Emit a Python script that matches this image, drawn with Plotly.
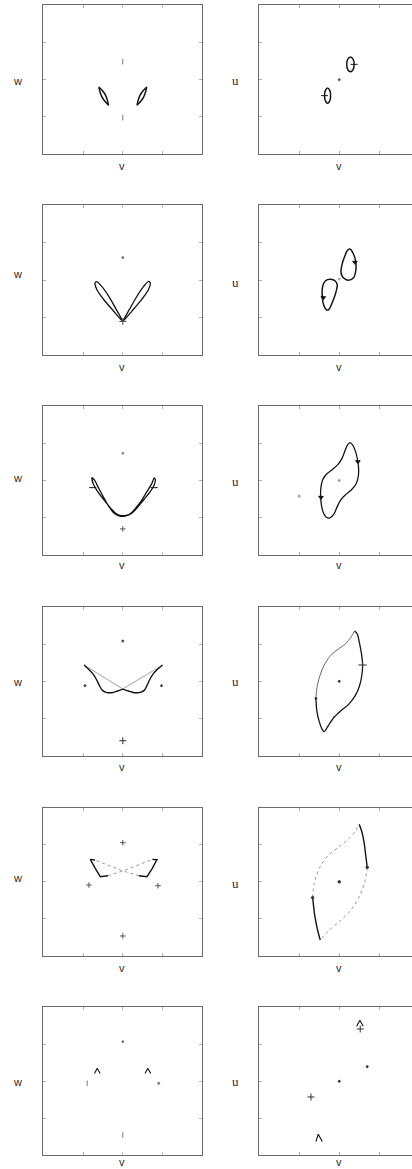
import plotly.graph_objects as go

W, H = 412, 1169

# ---------------- row 1 ----------------
r1_w_lobe_left = [(-0.30, -0.10), (-0.255, -0.15), (-0.218, -0.207), (-0.195, -0.271), (-0.18, -0.34),
                  (-0.225, -0.289), (-0.262, -0.233), (-0.285, -0.17), (-0.30, -0.10)]
r1_w_lobe_right = [(0.30, -0.10), (0.285, -0.17), (0.262, -0.233), (0.225, -0.289), (0.18, -0.34),
                   (0.195, -0.271), (0.218, -0.207), (0.255, -0.15), (0.30, -0.10)]
r1_w_fixed = [(0.0, 0.24), (0.0, -0.51)]

r1_u_orbit_upper = [(0.14, 0.305), (0.173, 0.276), (0.186, 0.205), (0.173, 0.134), (0.14, 0.105),
                    (0.107, 0.134), (0.094, 0.205), (0.107, 0.276), (0.14, 0.305)]
r1_u_orbit_lower = [(-0.146, -0.111), (-0.12, -0.141), (-0.108, -0.214), (-0.12, -0.287), (-0.146, -0.317),
                    (-0.172, -0.287), (-0.184, -0.214), (-0.172, -0.141), (-0.146, -0.111)]
r1_u_arrows = [(0.186, 0.205), (-0.184, -0.214)]
r1_u_fixed = [(0.0, 0.0)]

# ---------------- row 2 ----------------
r2_w_petal_left = [(0.0, -0.55), (-0.0865, -0.3815), (-0.176, -0.2155), (-0.262, -0.0855), (-0.33, -0.02),
                   (-0.35, -0.04), (-0.324, -0.1305), (-0.238, -0.2605), (-0.1205, -0.4065), (0.0, -0.55)]
r2_w_petal_right = [(0.0, -0.55), (0.087, -0.383), (0.178, -0.214), (0.262, -0.083), (0.326, -0.015),
                    (0.345, -0.035), (0.322, -0.128), (0.236, -0.259), (0.12, -0.405), (0.0, -0.55)]
r2_w_fixed = [(0.0, 0.30)]
r2_w_cross = [(0.0, -0.55)]

r2_u_orbit_upper = [(0.133, 0.415), (0.179, 0.344), (0.204, 0.255), (0.208, 0.135), (0.179, 0.033),
                    (0.1125, -0.002), (0.042, 0.042), (0.021, 0.113), (0.0375, 0.22), (0.075, 0.335),
                    (0.10, 0.392), (0.133, 0.415)]
r2_u_orbit_lower = [(-0.108, 0.011), (-0.05, -0.011), (-0.025, -0.064), (-0.042, -0.162), (-0.083, -0.286),
                    (-0.129, -0.388), (-0.158, -0.397), (-0.192, -0.339), (-0.2125, -0.22), (-0.208, -0.086),
                    (-0.175, -0.011), (-0.108, 0.011)]
r2_u_arrows = [(0.196, 0.237), (-0.2, -0.233)]
r2_u_fixed = [(0.0, 0.015)]

# ---------------- row 3 ----------------
r3_w_orbit = [(-0.387, 0.038), (-0.374, -0.038), (-0.328, -0.128), (-0.252, -0.239), (-0.168, -0.351),
              (-0.097, -0.432), (-0.034, -0.468), (0.042, -0.468), (0.109, -0.432), (0.176, -0.351),
              (0.24, -0.262), (0.303, -0.15), (0.366, -0.038), (0.395, 0.034), (0.408, 0.016),
              (0.395, -0.06), (0.345, -0.15), (0.26, -0.262), (0.176, -0.374), (0.101, -0.45),
              (0.029, -0.477), (-0.042, -0.477), (-0.109, -0.441), (-0.168, -0.36), (-0.235, -0.239),
              (-0.303, -0.105), (-0.357, 0.007), (-0.387, 0.038)]
r3_w_arrows = [(-0.378, -0.096), (0.395, -0.096)]
r3_w_fixed = [(0.0, 0.365)]
r3_w_cross = [(0.0, -0.65)]

r3_u_orbit = [(0.133, 0.508), (0.171, 0.472), (0.204, 0.387), (0.229, 0.275), (0.242, 0.163),
              (0.2375, 0.051), (0.208, -0.051), (0.15, -0.128), (0.075, -0.195), (0.017, -0.262),
              (-0.025, -0.351), (-0.067, -0.45), (-0.117, -0.503), (-0.1625, -0.494), (-0.196, -0.441),
              (-0.221, -0.342), (-0.233, -0.217), (-0.229, -0.092), (-0.208, 0.007), (-0.158, 0.087),
              (-0.083, 0.15), (-0.017, 0.2125), (0.033, 0.293), (0.075, 0.409), (0.104, 0.477),
              (0.133, 0.508)]
r3_u_arrows = [(0.233, 0.253), (-0.229, -0.226)]
r3_u_fixed = [(0.0, 0.0), (-0.5, -0.21)]

# ---------------- row 4 ----------------
r4_w_slow_left = [(-0.487, 0.219), (-0.433, 0.165), (-0.37, 0.094), (-0.328, 0.018), (-0.294, -0.058),
                  (-0.256, -0.121), (-0.21, -0.147), (-0.139, -0.152), (-0.067, -0.129), (0.0, -0.103)]
r4_w_fast_left = [(-0.487, 0.219), (-0.24, 0.058), (0.0, -0.103)]
r4_w_slow_right = [(0.0, -0.103), (0.071, -0.129), (0.143, -0.152), (0.218, -0.147), (0.269, -0.121),
                   (0.303, -0.058), (0.336, 0.018), (0.378, 0.094), (0.437, 0.161), (0.5, 0.219)]
r4_w_fast_right = [(0.5, 0.219), (0.25, 0.058), (0.0, -0.103)]
r4_w_fixed = [(0.0, 0.54), (-0.475, -0.058), (0.487, -0.058)]
r4_w_cross = [(0.0, -0.795)]

r4_u_slow = [(0.192, 0.674), (0.225, 0.634), (0.254, 0.509), (0.279, 0.362), (0.292, 0.219),
             (0.283, 0.085), (0.254, -0.058), (0.2, -0.192), (0.117, -0.308), (0.017, -0.397),
             (-0.0625, -0.478), (-0.133, -0.585), (-0.1875, -0.674), (-0.2125, -0.647), (-0.25, -0.54),
             (-0.279, -0.406), (-0.292, -0.228)]
r4_u_fast = [(-0.292, -0.228), (-0.279, -0.085), (-0.246, 0.0625), (-0.192, 0.21), (-0.117, 0.335),
             (-0.017, 0.429), (0.075, 0.5), (0.15, 0.598), (0.192, 0.674)]
r4_u_cross = [(0.292, 0.219)]
r4_u_fixed = [(0.0, 0.0), (-0.292, -0.228)]

# ---------------- row 5 ----------------
r5_w_slow_a = [(-0.35, 0.294), (-0.409, 0.303), (-0.346, 0.182), (-0.283, 0.07), (-0.187, 0.083)]
r5_w_slow_b = [(0.371, 0.303), (0.43, 0.299), (0.371, 0.182), (0.304, 0.07), (0.203, 0.083)]
r5_w_fast_a = [(-0.187, 0.083), (0.002, 0.146), (0.371, 0.303)]
r5_w_fast_b = [(0.203, 0.083), (0.002, 0.146), (-0.35, 0.294)]
r5_w_cross = [(0.0, 0.528), (0.0, -0.73), (-0.426, -0.043), (0.442, -0.052)]

r5_u_slow_a = [(0.25, 0.775), (0.283, 0.676), (0.3125, 0.519), (0.333, 0.339), (0.35, 0.196)]
r5_u_fast_a = [(0.35, 0.196), (0.325, 0.025), (0.258, -0.178), (0.146, -0.38), (0.0, -0.537),
               (-0.125, -0.649), (-0.2375, -0.784)]
r5_u_slow_b = [(-0.2375, -0.784), (-0.271, -0.649), (-0.304, -0.47), (-0.333, -0.213)]
r5_u_fast_b = [(-0.333, -0.213), (-0.3125, -0.02), (-0.25, 0.182), (-0.146, 0.348), (0.0, 0.474),
               (0.125, 0.587), (0.208, 0.69), (0.25, 0.775)]
r5_u_fixed = [(0.35, 0.196), (-0.333, -0.213), (0.0, 0.0)]

# ---------------- row 6 ----------------
r6_w_cusp_left = [(-0.356, 0.104), (-0.322, 0.176), (-0.285, 0.104)]
r6_w_cusp_right = [(0.28, 0.104), (0.314, 0.176), (0.351, 0.104)]
r6_w_fixed = [(0.0, 0.536), (0.452, -0.027)]
r6_w_ticks = [(0.0, -0.725), (-0.448, -0.027)]

r6_u_cusp_upper = [(0.217, 0.743), (0.258, 0.824), (0.3, 0.743)]
r6_u_cusp_lower = [(-0.292, -0.815), (-0.2625, -0.716), (-0.2125, -0.815)]
r6_u_cross = [(0.2625, 0.707), (-0.354, -0.212)]
r6_u_fixed = [(0.35, 0.198), (0.0, 0.0)]

# panel frames in page pixels: (top, bottom) per row
row_px = [(5, 154.3), (205, 355.3), (406, 555), (606.7, 756), (807.7, 956), (1007.3, 1155.3)]
left_px = (43.3, 202.3)
right_px = (259.3, 412.0)
right_xmax = 0.91  # right-hand frames run off the page edge

v_label_y = [166, 366.7, 565, 766.7, 968.3, 1162]
w_label_y = [81, 274, 478, 682, 878, 1082]
u_label_y = [80, 282.7, 481, 681.7, 883, 1081.7]

INK = "#141414"
FAINT = "#8c8c8c"
LABEL = "#2a2a2a"

fig = go.Figure()


def axis_ids(k):
    return ("x" if k == 1 else f"x{k}", "y" if k == 1 else f"y{k}")


def add_path(k, pts, color=INK, width=1.5, dash="solid", spline=True):
    xa, ya = axis_ids(k)
    fig.add_trace(go.Scatter(
        x=[p[0] for p in pts], y=[p[1] for p in pts], xaxis=xa, yaxis=ya,
        mode="lines", line=dict(color=color, width=width, dash=dash,
                                shape="spline" if spline else "linear", smoothing=0.8),
        hoverinfo="skip", showlegend=False))


def add_marks(k, pts, symbol="circle", size=2.5, color=INK):
    xa, ya = axis_ids(k)
    fig.add_trace(go.Scatter(
        x=[p[0] for p in pts], y=[p[1] for p in pts], xaxis=xa, yaxis=ya,
        mode="markers",
        marker=dict(symbol=symbol, size=size, color=color, line=dict(color=color, width=1)),
        hoverinfo="skip", showlegend=False))


# panel numbering: row r, column c -> k = 2*r + c + 1
# row 1
add_path(1, r1_w_lobe_left)
add_path(1, r1_w_lobe_right)
add_marks(1, r1_w_fixed, "line-ns", 4, "#777")
add_path(2, r1_u_orbit_upper)
add_path(2, r1_u_orbit_lower)
add_marks(2, r1_u_arrows, "line-ew", 5)
add_marks(2, r1_u_fixed, "circle", 2, "#555")
# row 2
add_path(3, r2_w_petal_left, width=1.3)
add_path(3, r2_w_petal_right, width=1.3)
add_marks(3, r2_w_fixed, "circle", 2, "#777")
add_marks(3, r2_w_cross, "cross-thin", 5, "#555")
add_path(4, r2_u_orbit_upper)
add_path(4, r2_u_orbit_lower)
add_marks(4, r2_u_arrows, "triangle-down", 4)
add_marks(4, r2_u_fixed, "circle", 2, "#aaa")
# row 3
add_path(5, r3_w_orbit, width=1.3)
add_marks(5, r3_w_arrows, "line-ew", 5)
add_marks(5, r3_w_fixed, "circle", 2, "#888")
add_marks(5, r3_w_cross, "cross-thin", 4, "#555")
add_path(6, r3_u_orbit, width=1.3)
add_marks(6, r3_u_arrows, "triangle-down", 4)
add_marks(6, r3_u_fixed, "circle", 2, "#999")
# row 4
add_path(7, r4_w_fast_left, FAINT, 0.8, spline=False)
add_path(7, r4_w_fast_right, FAINT, 0.8, spline=False)
add_path(7, r4_w_slow_left, width=1.4)
add_path(7, r4_w_slow_right, width=1.4)
add_marks(7, r4_w_fixed, "circle", 2, "#444")
add_marks(7, r4_w_cross, "cross-thin", 5, "#333")
add_path(8, r4_u_slow, width=1.3)
add_path(8, r4_u_fast, "#555", 0.9)
add_marks(8, r4_u_cross, "cross-thin", 6, "#333")
add_marks(8, r4_u_fixed, "circle", 2, "#333")
# row 5
add_path(9, r5_w_fast_a, FAINT, 0.9, "dot", spline=False)
add_path(9, r5_w_fast_b, FAINT, 0.9, "dot", spline=False)
add_path(9, r5_w_slow_a, width=1.4, spline=False)
add_path(9, r5_w_slow_b, width=1.4, spline=False)
add_marks(9, r5_w_cross, "cross-thin", 4, "#555")
add_path(10, r5_u_fast_a, FAINT, 0.9, "dot")
add_path(10, r5_u_fast_b, FAINT, 0.9, "dot")
add_path(10, r5_u_slow_a, width=1.4)
add_path(10, r5_u_slow_b, width=1.4)
add_marks(10, r5_u_fixed, "circle", 2.5, "#333")
# row 6
add_path(11, r6_w_cusp_left, width=1.1, spline=False)
add_path(11, r6_w_cusp_right, width=1.1, spline=False)
add_marks(11, r6_w_fixed, "circle", 2, "#777")
add_marks(11, r6_w_ticks, "line-ns", 4, "#777")
add_path(12, r6_u_cusp_upper, width=1.1, spline=False)
add_path(12, r6_u_cusp_lower, width=1.1, spline=False)
add_marks(12, r6_u_cross, "cross-thin", 5, "#333")
add_marks(12, r6_u_fixed, "circle", 2, "#333")

layout = dict(width=W, height=H, margin=dict(l=0, r=0, t=0, b=0),
              paper_bgcolor="white", plot_bgcolor="white", showlegend=False)

frame = dict(showline=True, linecolor="#6a6a6a", linewidth=1, showgrid=False, zeroline=False,
             ticks="inside", ticklen=3, tickcolor="#b0b0b0", tickvals=[-0.5, 0, 0.5],
             showticklabels=False, fixedrange=True)

label_font = dict(family="Liberation Sans", size=11, color=LABEL)
annotations = []
for r, (top, bot) in enumerate(row_px):
    ydom = [1 - bot / H, 1 - top / H]
    for c in range(2):
        k = 2 * r + c + 1
        xa, ya = axis_ids(k)
        xkey = "xaxis" if k == 1 else f"xaxis{k}"
        ykey = "yaxis" if k == 1 else f"yaxis{k}"
        px = left_px if c == 0 else right_px
        layout[xkey] = dict(frame, domain=[px[0] / W, px[1] / W], anchor=ya,
                            range=[-1, 1] if c == 0 else [-1, right_xmax], mirror="ticks")
        layout[ykey] = dict(frame, domain=ydom, anchor=xa, range=[-1, 1],
                            mirror="ticks" if c == 0 else False)
    for xpx in (122.5, 338.7):
        annotations.append(dict(text="v", x=xpx / W, y=1 - v_label_y[r] / H, xref="paper", yref="paper",
                                showarrow=False, xanchor="center", yanchor="middle", font=label_font))
    annotations.append(dict(text="w", x=17 / W, y=1 - w_label_y[r] / H, xref="paper", yref="paper",
                            showarrow=False, xanchor="center", yanchor="middle", font=label_font))
    annotations.append(dict(text="u", x=235.3 / W, y=1 - u_label_y[r] / H, xref="paper", yref="paper",
                            showarrow=False, xanchor="center", yanchor="middle",
                            font=dict(family="Liberation Serif", size=13, color=LABEL)))

layout["annotations"] = annotations
fig.update_layout(**layout)
fig.write_html("out.html")
